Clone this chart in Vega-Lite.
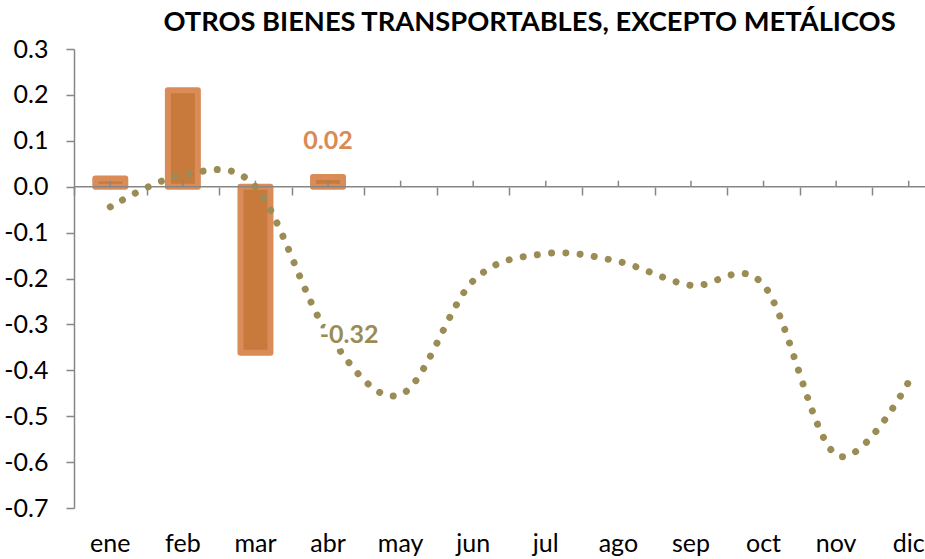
{
  "$schema": "https://vega.github.io/schema/vega-lite/v6.json",
  "width": 851,
  "height": 459,
  "autosize": {"type": "none"},
  "padding": {"left": 74, "top": 49, "right": 0, "bottom": 51},
  "background": "white",
  "config": {
    "view": {"stroke": null},
    "font": "Lato",
    "locale": {"number": {"decimal": ".", "thousands": ",", "grouping": [3], "currency": ["$", ""], "minus": "-"}}
  },
  "title": {
    "text": "OTROS BIENES TRANSPORTABLES, EXCEPTO METÁLICOS",
    "font": "Lato",
    "fontSize": 27.3,
    "fontWeight": "bold",
    "color": "#000000",
    "anchor": "middle",
    "dx": 30,
    "offset": 1
  },
  "data": {
    "values": [
      {"month": "ene", "bar": 0.018, "line": -0.044},
      {"month": "feb", "bar": 0.21, "line": 0.026},
      {"month": "mar", "bar": -0.362, "line": 0.0},
      {"month": "abr", "bar": 0.021, "line": -0.32},
      {"month": "may", "bar": null, "line": -0.453},
      {"month": "jun", "bar": null, "line": -0.205},
      {"month": "jul", "bar": null, "line": -0.146},
      {"month": "ago", "bar": null, "line": -0.163},
      {"month": "sep", "bar": null, "line": -0.215},
      {"month": "oct", "bar": null, "line": -0.214},
      {"month": "nov", "bar": null, "line": -0.584},
      {"month": "dic", "bar": null, "line": -0.425}
    ]
  },
  "layer": [
    {
      "mark": {"type": "bar", "size": 30, "fill": "#C77A3B", "stroke": "#DA8C58", "strokeWidth": 6, "strokeJoin": "round"},
      "encoding": {
        "x": {
          "field": "month", "type": "nominal",
          "scale": {"domain": ["ene","feb","mar","abr","may","jun","jul","ago","sep","oct","nov","dic"], "range": [0, 871], "paddingInner": 0, "paddingOuter": 0},
          "axis": {"orient": "bottom", "domain": false, "ticks": false, "labelFontSize": 25, "labelFont": "Lato", "labelColor": "#000000", "labelPadding": 23, "labelAngle": 0, "title": null}
        },
        "y": {
          "field": "bar", "type": "quantitative",
          "scale": {"domain": [-0.7, 0.3], "nice": false, "zero": false},
          "axis": {"values": [-0.7,-0.6,-0.5,-0.4,-0.3,-0.2,-0.1,0,0.1,0.2,0.3], "format": ".1f", "grid": false, "domainColor": "#868686", "domainWidth": 1.5, "tickColor": "#868686", "tickWidth": 1.5, "tickSize": 8, "labelFontSize": 25, "labelFont": "Lato", "labelColor": "#000000", "labelPadding": 18, "title": null}
        }
      }
    },
    {
      "data": {"values": [{}]},
      "mark": {"type": "rule", "color": "#868686", "strokeWidth": 1.5},
      "encoding": {"y": {"datum": 0}}
    },
    {
      "mark": {"type": "rule", "color": "#868686", "strokeWidth": 1.5},
      "encoding": {
        "x": {
          "field": "month", "type": "nominal",
          "scale": {"domain": ["ene","feb","mar","abr","may","jun","jul","ago","sep","oct","nov","dic"], "range": [0, 871], "paddingInner": 0, "paddingOuter": 0},
          "axis": {"orient": "bottom", "offset": -321, "labels": false, "domain": false, "ticks": true, "tickBand": "extent", "tickSize": 8, "tickColor": "#868686", "tickWidth": 1.5, "title": null}
        },
        "y": {"datum": 0},
        "y2": {"datum": 0.013}
      }
    },
    {
      "mark": {"type": "line", "color": "#9B8C56", "strokeWidth": 7, "strokeDash": [0.01, 14.3], "strokeCap": "round", "interpolate": "cardinal", "tension": 0},
      "encoding": {
        "x": {"field": "month", "type": "nominal", "axis": null},
        "y": {"field": "line", "type": "quantitative"}
      }
    },
    {
      "transform": [{"filter": "datum.month == 'abr'"}],
      "mark": {"type": "text", "font": "Lato", "fontSize": 25, "fontWeight": "bold", "fill": "white", "stroke": "white", "strokeWidth": 12, "strokeJoin": "round", "align": "center", "baseline": "middle", "dx": 21, "dy": 1},
      "encoding": {
        "x": {"field": "month", "type": "nominal", "axis": null},
        "y": {"field": "line", "type": "quantitative"},
        "text": {"field": "line", "format": ".2f"}
      }
    },
    {
      "transform": [{"filter": "datum.month == 'abr'"}],
      "mark": {"type": "text", "font": "Lato", "fontSize": 25, "fontWeight": "bold", "color": "#9B8C56", "align": "center", "baseline": "middle", "dx": 21, "dy": 1},
      "encoding": {
        "x": {"field": "month", "type": "nominal", "axis": null},
        "y": {"field": "line", "type": "quantitative"},
        "text": {"field": "line", "format": ".2f"}
      }
    },
    {
      "transform": [{"filter": "datum.month == 'abr'"}],
      "mark": {"type": "text", "font": "Lato", "fontSize": 25, "fontWeight": "bold", "color": "#D98A55", "align": "center", "baseline": "middle", "dy": -36},
      "encoding": {
        "x": {"field": "month", "type": "nominal", "axis": null},
        "y": {"field": "bar", "type": "quantitative"},
        "text": {"field": "bar", "format": ".2f"}
      }
    }
  ],
  "resolve": {"axis": {"x": "independent"}}
}
